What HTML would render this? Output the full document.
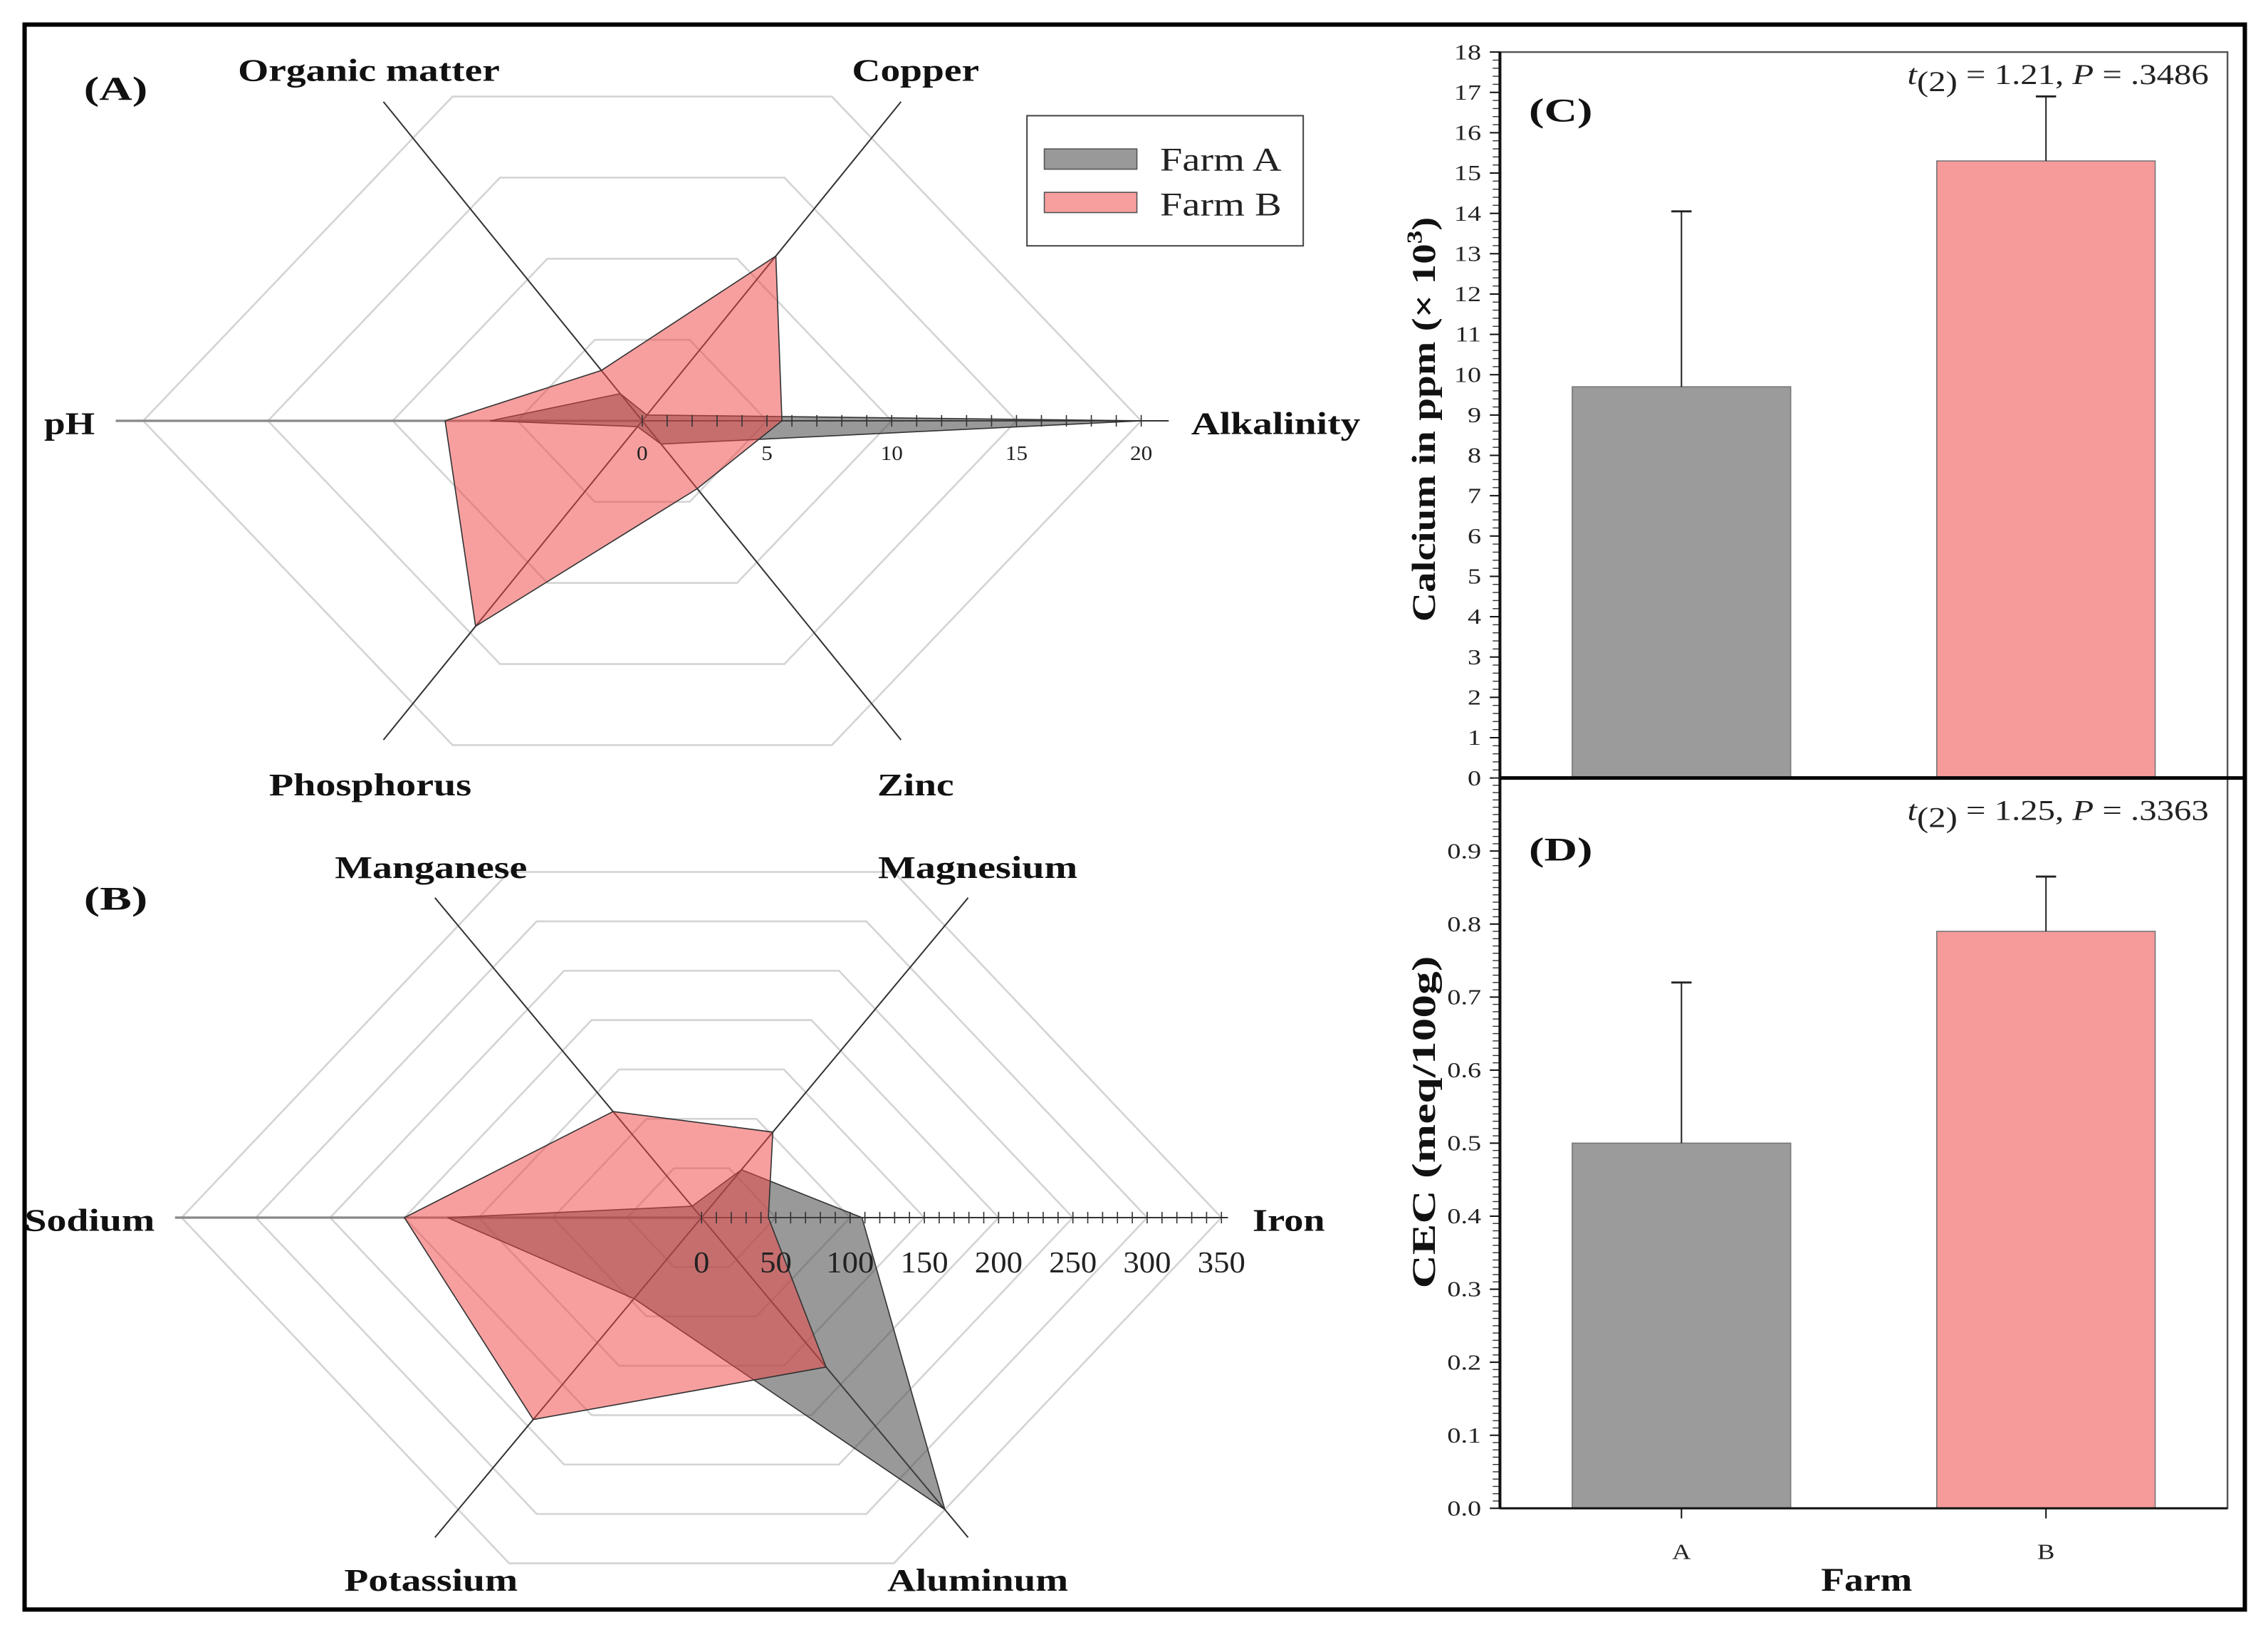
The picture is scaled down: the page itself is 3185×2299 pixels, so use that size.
<!DOCTYPE html>
<html><head><meta charset="utf-8">
<style>
html,body{margin:0;padding:0;background:#fff;}
svg{display:block;font-family:"Liberation Serif",serif;}
</style></head>
<body>
<svg id="fig" width="3185" height="2299" viewBox="0 0 1568 1132" preserveAspectRatio="none" xmlns="http://www.w3.org/2000/svg">
<rect x="17" y="17" width="1535" height="1096" fill="#fff" stroke="#000" stroke-width="3"/>
</svg>
<script>
// ---- Panel A data ----
const axesA = ["Alkalinity","Copper","Organic matter","pH","Phosphorus","Zinc"];
const farmA_A = [20, 0.3, 1.4, 6.1, 0.3, 1.2];
const farmB_A = [5.6, 8.5, 2.6, 7.9, 10.6, 3.5];
const ringsA = [5, 10, 15, 20];
const ticksA = [0, 5, 10, 15, 20];
// ---- Panel B data ----
const axesB = ["Iron","Magnesium","Manganese","Sodium","Potassium","Aluminum"];
const farmA_B = [108, 42, 10, 171, 71, 256];
const farmB_B = [45, 75, 93, 200, 177, 131];
const ringsB = [50, 100, 150, 200, 250, 300, 350];
const ticksB = [0, 50, 100, 150, 200, 250, 300, 350];
// ---- Panel C data ----
const farms = ["A","B"];
const calcium = [9.7, 15.3];
const calciumErr = [4.35, 1.6];
const calciumTicks = [0,1,2,3,4,5,6,7,8,9,10,11,12,13,14,15,16,17,18];
// ---- Panel D data ----
const cec = [0.50, 0.79];
const cecErr = [0.22, 0.075];
const cecTicks = [0,0.1,0.2,0.3,0.4,0.5,0.6,0.7,0.8,0.9];

const svg = document.getElementById('fig');
const NS = "http://www.w3.org/2000/svg";
function mk(tag, attrs, parent){
  const e = document.createElementNS(NS, tag);
  for (const k in attrs) e.setAttribute(k, attrs[k]);
  (parent||svg).appendChild(e);
  return e;
}
function txt(s, x, y, size, opts, parent){
  const t = mk('text', Object.assign({x:x, y:y, 'font-size':size}, opts||{}), parent);
  t.textContent = s;
  return t;
}

function radar(cfg){
  const g = mk('g', {});
  
  
  const cx = cfg.cx, cy = cfg.cy, s = cfg.scale;
  const dirs = [[1,0],[cfg.dx,-cfg.dy],[-cfg.dx,-cfg.dy],[-1,0],[-cfg.dx,cfg.dy],[cfg.dx,cfg.dy]];
  const pt = (i,v) => [cx + dirs[i][0]*v*s, cy + dirs[i][1]*v*s];
  cfg.rings.forEach(v => {
    const r = v*s;
    const p = [[cx+r,cy],[cx+cfg.hx*r,cy-cfg.hy*r],[cx-cfg.hx*r,cy-cfg.hy*r],[cx-r,cy],[cx-cfg.hx*r,cy+cfg.hy*r],[cx+cfg.hx*r,cy+cfg.hy*r]];
    const ring = mk('polygon', {points:p.map(q=>q.join(',')).join(' '), fill:'none', stroke:'#d4d4d4', 'stroke-width':1.3}, g);
    
    
  });
  for (let i=0;i<6;i++){
    const L = (i===0||i===3) ? cfg.hlen : cfg.dlen;
    const a = mk('line', {x1:cx, y1:cy, x2:cx+dirs[i][0]*L, y2:cy+dirs[i][1]*L, stroke:(i===3?'#888':'#333'), 'stroke-width':(i===3?1.6:1)}, g);
    
    
  }
  const series = [[cfg.a,'rgba(70,70,70,0.55)','farm-a-polygon'],[cfg.b,'rgba(240,70,70,0.52)','farm-b-polygon']];
  series.forEach(sr => {
    const pts = sr[0].map((v,i)=>pt(i,v).join(',')).join(' ');
    const p = mk('polygon', {points:pts, fill:sr[1], stroke:'#333', 'stroke-width':0.8}, g);
    
    
  });
  const maxT = cfg.ticks[cfg.ticks.length-1];
  for (let v=0; v<=maxT+0.0001; v+=cfg.minor){
    const x = cx + v*s;
    mk('line', {x1:x, y1:cy-4, x2:x, y2:cy+4, stroke:'#333', 'stroke-width':0.8}, g);
  }
  cfg.ticks.forEach(v => {
    const t = txt(String(v), 0, 0, cfg.tickSize, {'text-anchor':'middle', fill:'#222', transform:'translate('+(cx+v*s)+','+(cy+cfg.tickDy)+') scale('+cfg.tickSx+',1)'}, g);
    
    
  });
}

radar({name:'radar-a', cx:444, cy:291, scale:17.25, dx:0.63, dy:0.777, hx:0.38, hy:0.65,
  hlen:364, dlen:284, rings:ringsA, ticks:ticksA, minor:1, a:farmA_A, b:farmB_A, tickDy:27, tickSize:14, tickSx:1.1});
radar({name:'radar-b', cx:485, cy:842, scale:1.027, dx:0.64, dy:0.768, hx:0.37, hy:0.665,
  hlen:364, dlen:288, rings:ringsB, ticks:ticksB, minor:10, a:farmA_B, b:farmB_B, tickDy:38, tickSize:21, tickSx:1.05});

// radar labels: text, center x, baseline y, size, width, name
const labs = [
  ["(A)",80,69,23,44,'panel-a-label'],
  ["Organic matter",255,56,22,181,'axis-label-organic-matter'],
  ["Copper",633,56,22,88,'axis-label-copper'],
  ["pH",48,300,22,35,'axis-label-ph'],
  ["Alkalinity",882,300,22,117,'axis-label-alkalinity'],
  ["Phosphorus",256,550,22,140,'axis-label-phosphorus'],
  ["Zinc",633,550,22,53,'axis-label-zinc'],
  ["(B)",80,629,23,44,'panel-b-label'],
  ["Manganese",298,607,22,133,'axis-label-manganese'],
  ["Magnesium",676,607,22,138,'axis-label-magnesium'],
  ["Sodium",62,851,22,90,'axis-label-sodium'],
  ["Iron",891,851,22,50,'axis-label-iron'],
  ["Potassium",298,1100,22,120,'axis-label-potassium'],
  ["Aluminum",676,1100,22,125,'axis-label-aluminum']
];
labs.forEach(l => {
  const t = txt(l[0], l[1]-l[4]/2, l[2], l[3], {'font-weight':'bold', fill:'#111', textLength:l[4], lengthAdjust:'spacingAndGlyphs'});
  
  
});

// legend
const lg = mk('g', {});


mk('rect', {x:710, y:80, width:191, height:90, fill:'#fff', stroke:'#444', 'stroke-width':1}, lg);
const le1 = mk('rect', {x:722, y:103, width:64, height:14, fill:'rgba(70,70,70,0.55)', stroke:'#555', 'stroke-width':0.8}, lg);


const le2 = mk('rect', {x:722, y:133, width:64, height:14, fill:'rgba(240,70,70,0.52)', stroke:'#555', 'stroke-width':0.8}, lg);


const lt1 = txt("Farm A", 802, 118, 23, {fill:'#222', textLength:84, lengthAdjust:'spacingAndGlyphs'}, lg);


const lt2 = txt("Farm B", 802, 149, 23, {fill:'#222', textLength:84, lengthAdjust:'spacingAndGlyphs'}, lg);



// bar charts
const barX = [1087, 1339];
const barW = 151;
const barColors = ['#9b9b9b', '#f79a9a'];
function barChart(cfg){
  const g = mk('g', {});
  
  
  const y = v => cfg.y0 - v / cfg.max * (cfg.y0 - cfg.yTop);
  mk('rect', {x:1037, y:cfg.yTop, width:503, height:cfg.y0-cfg.yTop, fill:'none', stroke:'#555', 'stroke-width':1.2}, g);
  cfg.vals.forEach((v,i) => {
    const b = mk('rect', {x:barX[i], y:y(v), width:barW, height:cfg.y0-y(v), fill:barColors[i], stroke:'#777', 'stroke-width':0.8}, g);
    
    
    const cxm = barX[i] + barW/2;
    const e = mk('line', {x1:cxm, y1:y(v), x2:cxm, y2:y(v+cfg.errs[i]), stroke:'#222', 'stroke-width':1}, g);
    
    
    mk('line', {x1:cxm-7, y1:y(v+cfg.errs[i]), x2:cxm+7, y2:y(v+cfg.errs[i]), stroke:'#222', 'stroke-width':1.4}, g);
  });
  for (let v=0; v<=cfg.max+1e-9; v+=cfg.minor){
    mk('line', {x1:1032, y1:y(v), x2:1037, y2:y(v), stroke:'#333', 'stroke-width':0.7}, g);
  }
  cfg.ticks.forEach(v => {
    mk('line', {x1:1030, y1:y(v), x2:1037, y2:y(v), stroke:'#111', 'stroke-width':1}, g);
    const s = cfg.fmt(v);
    const t = txt(s, 0, 0, 15, {'text-anchor':'end', fill:'#222', transform:'translate(1024,'+(y(v)+5)+') scale(1.25,1)'}, g);
    
    
  });
  mk('line', {x1:1037, y1:cfg.yTop, x2:1037, y2:cfg.y0, stroke:'#111', 'stroke-width':2}, g);
}
barChart({name:'chart-c', vals:calcium, errs:calciumErr, ticks:calciumTicks, max:18, minor:0.2, y0:538, yTop:36, fmt:v=>String(v)});
barChart({name:'chart-d', vals:cec, errs:cecErr, ticks:cecTicks, max:1.0, minor:0.01, y0:1043, yTop:538, fmt:v=>v.toFixed(1)});

mk('line', {x1:1037, y1:538, x2:1552, y2:538, stroke:'#000', 'stroke-width':2.5});
mk('line', {x1:1037, y1:1043, x2:1540, y2:1043, stroke:'#111', 'stroke-width':1.5});
farms.forEach((f,i) => {
  const cxm = barX[i] + barW/2;
  mk('line', {x1:cxm, y1:1043, x2:cxm, y2:1050, stroke:'#111', 'stroke-width':1});
  const t = txt(f, 0, 0, 15, {'text-anchor':'middle', fill:'#222', transform:'translate('+cxm+',1078) scale(1.2,1)'});
  
  
});
const xt = txt("Farm", 1259, 1100, 23, {'font-weight':'bold', fill:'#111', textLength:63, lengthAdjust:'spacingAndGlyphs'});



const pc = txt("(C)", 1057, 84, 23, {'font-weight':'bold', fill:'#111', textLength:44, lengthAdjust:'spacingAndGlyphs'});


const pd = txt("(D)", 1057, 595, 23, {'font-weight':'bold', fill:'#111', textLength:44, lengthAdjust:'spacingAndGlyphs'});



function stat(y, a, b, name){
  const t = mk('text', {x:0, y:0, 'font-size':20, 'text-anchor':'end', fill:'#222', transform:'translate(1527,'+y+') scale(1.2,1)'});
  
  
  t.innerHTML = '<tspan font-style="italic">t</tspan><tspan dy="5">(2)</tspan><tspan dy="-5"> = ' + a + ', </tspan><tspan font-style="italic">P</tspan><tspan> = ' + b + '</tspan>';
}
stat(58, "1.21", ".3486", 'stat-annotation-c');
stat(567, "1.25", ".3363", 'stat-annotation-d');

const yc = mk('text', {x:-140, y:0, 'font-size':23, 'font-weight':'bold', fill:'#111', transform:'translate(992,290) rotate(-90)', textLength:280, lengthAdjust:'spacingAndGlyphs'});


yc.innerHTML = 'Calcium in ppm (× 10<tspan dy="-9" font-size="15">3</tspan><tspan dy="9">)</tspan>';
const yd = txt("CEC (meq/100g)", -115, 0, 23, {'font-weight':'bold', fill:'#111', transform:'translate(992,776) rotate(-90)', textLength:230, lengthAdjust:'spacingAndGlyphs'});


</script>
</body></html>
